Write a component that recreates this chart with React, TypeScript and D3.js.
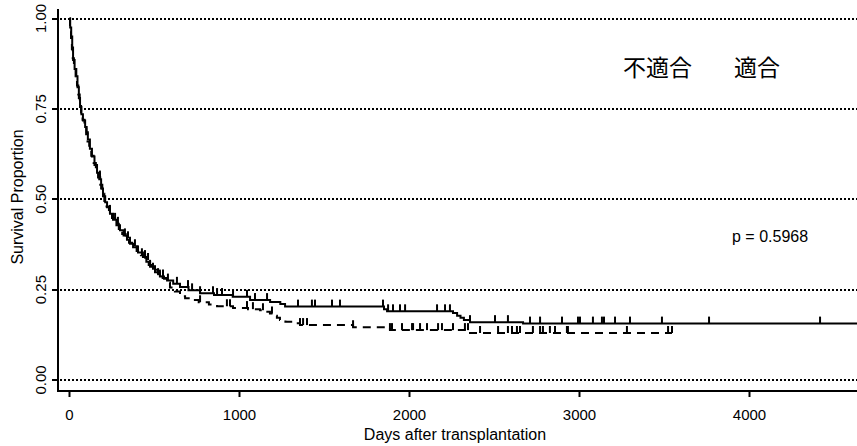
import React from "react";
import * as d3 from "d3";

// Kaplan–Meier estimates: step times (days) and survival after each step
const timesUnsuitable = [0, 4, 10, 16, 21, 30, 40, 47, 55, 62, 70, 79, 92, 101, 108, 120, 132, 147, 162, 175, 186, 197, 210, 221, 238, 256, 276, 297, 318, 338, 356, 374, 403, 432, 452, 474, 503, 532, 556, 574, 610, 650, 700, 768, 850, 960, 1062, 1180, 1240, 1268, 1850, 1868, 2256, 2280, 2300, 2320, 2356, 2668];
const survUnsuitable = [1, 0.975, 0.95, 0.92, 0.885, 0.86, 0.84, 0.81, 0.78, 0.755, 0.735, 0.718, 0.7, 0.685, 0.665, 0.64, 0.618, 0.595, 0.573, 0.555, 0.53, 0.508, 0.492, 0.478, 0.46, 0.443, 0.428, 0.414, 0.4, 0.388, 0.377, 0.367, 0.353, 0.34, 0.327, 0.313, 0.298, 0.286, 0.28, 0.275, 0.266, 0.257, 0.248, 0.24, 0.235, 0.23, 0.221, 0.216, 0.21, 0.203, 0.196, 0.19, 0.185, 0.178, 0.172, 0.166, 0.16, 0.156];
const lastTimeUnsuitable = 4700;
const censorUnsuitable = [179, 238, 268, 326, 356, 403, 444, 474, 503, 532, 550, 579, 632, 697, 721, 768, 844, 868, 897, 962, 1044, 1091, 1162, 1344, 1426, 1444, 1544, 1591, 1844, 1874, 1903, 1944, 1974, 2162, 2209, 2238, 2356, 2503, 2579, 2709, 2768, 2897, 2991, 3003, 3079, 3132, 3144, 3209, 3297, 3485, 3762, 4415];

const timesSuitable = [0, 3, 9, 14, 19, 26, 36, 44, 52, 60, 68, 77, 88, 98, 106, 116, 128, 142, 155, 168, 181, 193, 205, 218, 232, 250, 268, 290, 310, 330, 350, 368, 395, 420, 445, 466, 490, 520, 548, 575, 591, 620, 650, 680, 709, 760, 820, 868, 962, 1050, 1121, 1150, 1179, 1200, 1220, 1238, 1270, 1315, 1356, 1668, 1885, 2356];
const survSuitable = [1, 0.965, 0.94, 0.915, 0.89, 0.865, 0.84, 0.815, 0.79, 0.765, 0.74, 0.72, 0.7, 0.68, 0.66, 0.64, 0.62, 0.6, 0.58, 0.56, 0.54, 0.515, 0.495, 0.48, 0.465, 0.448, 0.432, 0.418, 0.404, 0.392, 0.38, 0.37, 0.357, 0.345, 0.332, 0.318, 0.305, 0.29, 0.282, 0.27, 0.256, 0.245, 0.232, 0.226, 0.221, 0.215, 0.209, 0.204, 0.199, 0.196, 0.193, 0.189, 0.184, 0.178, 0.172, 0.166, 0.161, 0.157, 0.152, 0.146, 0.138, 0.13];
const lastTimeSuitable = 3544;
const censorSuitable = [179, 238, 285, 344, 385, 426, 462, 491, 521, 768, 926, 944, 1044, 1079, 1138, 1191, 1356, 1374, 1397, 1668, 1885, 1897, 1956, 2015, 2021, 2062, 2103, 2168, 2191, 2256, 2326, 2344, 2415, 2521, 2579, 2603, 2632, 2650, 2726, 2768, 2785, 2826, 2856, 2926, 2932, 3279, 3521, 3544];

const xTicks = [0, 1000, 2000, 3000, 4000];
const yTicks = [0, 0.25, 0.5, 0.75, 1];
const yTickLabels = ["0.00", "0.25", "0.50", "0.75", "1.00"];
const legendLabels = ["不適合", "適合"];
const pValueText = "p = 0.5968";

const W = 857;
const H = 446;
const FONT = "'Liberation Sans', Arial, sans-serif";
const CJK_FONT = "'Noto Sans CJK JP', sans-serif";

const x = d3.scaleLinear().domain([0, 4000]).range([69.5, 749.5]);
const y = d3.scaleLinear().domain([0, 1]).range([380, 18.5]);

const line = d3
  .line<[number, number]>()
  .x((d) => x(d[0]))
  .y((d) => y(d[1]))
  .curve(d3.curveStepAfter);

function stepPoints(times: number[], surv: number[], end: number): [number, number][] {
  const pts: [number, number][] = times.map((t, i) => [t, surv[i]]);
  pts.push([end, surv[surv.length - 1]]);
  return pts;
}

function survAt(times: number[], surv: number[], t: number) {
  const i = d3.bisectRight(times, t) - 1;
  return surv[Math.max(0, i)];
}

function Curve({ times, surv, end, censor, dash }: { times: number[]; surv: number[]; end: number; censor: number[]; dash?: string }) {
  return (
    <g>
      <path d={line(stepPoints(times, surv, end)) || ""} fill="none" stroke="#000" strokeWidth={2} strokeDasharray={dash} />
      {censor.map((t, i) => {
        const yy = y(survAt(times, surv, t));
        return <line key={i} x1={x(t)} x2={x(t)} y1={yy} y2={yy - 7} stroke="#000" strokeWidth={2} />;
      })}
    </g>
  );
}

export default function App() {
  const axisY = 391;
  const axisX = 58;
  return (
    <svg width={W} height={H} style={{ position: "absolute", left: 0, top: 0, background: "#fff" }} fontFamily={FONT}>
      <rect width={W} height={H} fill="#fff" />
      {/* dotted reference lines */}
      {yTicks.map((v) => (
        <line key={v} x1={axisX + 2} x2={W} y1={Math.round(y(v))} y2={Math.round(y(v))} stroke="#000" strokeWidth={2} strokeDasharray="2,2" />
      ))}
      {/* L-shaped frame */}
      <path d={`M${axisX},9V${axisY}H${W}`} fill="none" stroke="#000" strokeWidth={2} />
      {/* x axis */}
      {xTicks.map((t) => (
        <g key={t}>
          <line x1={x(t)} x2={x(t)} y1={axisY} y2={axisY + 6} stroke="#000" strokeWidth={2} />
          <text x={x(t)} y={420} textAnchor="middle" fontSize={15}>{t}</text>
        </g>
      ))}
      <text x={455} y={440} textAnchor="middle" fontSize={16}>Days after transplantation</text>
      {/* y axis */}
      {yTicks.map((v, i) => (
        <g key={v}>
          <line x1={axisX - 6} x2={axisX} y1={Math.round(y(v))} y2={Math.round(y(v))} stroke="#000" strokeWidth={2} />
          <text transform={`translate(46,${y(v)}) rotate(-90)`} textAnchor="middle" fontSize={15}>{yTickLabels[i]}</text>
        </g>
      ))}
      <text transform={`translate(23,197) rotate(-90)`} textAnchor="middle" fontSize={16}>Survival Proportion</text>
      {/* survival curves */}
      <Curve times={timesUnsuitable} surv={survUnsuitable} end={lastTimeUnsuitable} censor={censorUnsuitable} />
      <Curve times={timesSuitable} surv={survSuitable} end={lastTimeSuitable} censor={censorSuitable} dash="8,6" />
      {/* legend and test result */}
      <text x={623} y={76} fontSize={23} fontFamily={CJK_FONT}>{legendLabels[0]}</text>
      <text x={734} y={76} fontSize={23} fontFamily={CJK_FONT}>{legendLabels[1]}</text>
      <text x={732} y={242} fontSize={16}>{pValueText}</text>
    </svg>
  );
}
